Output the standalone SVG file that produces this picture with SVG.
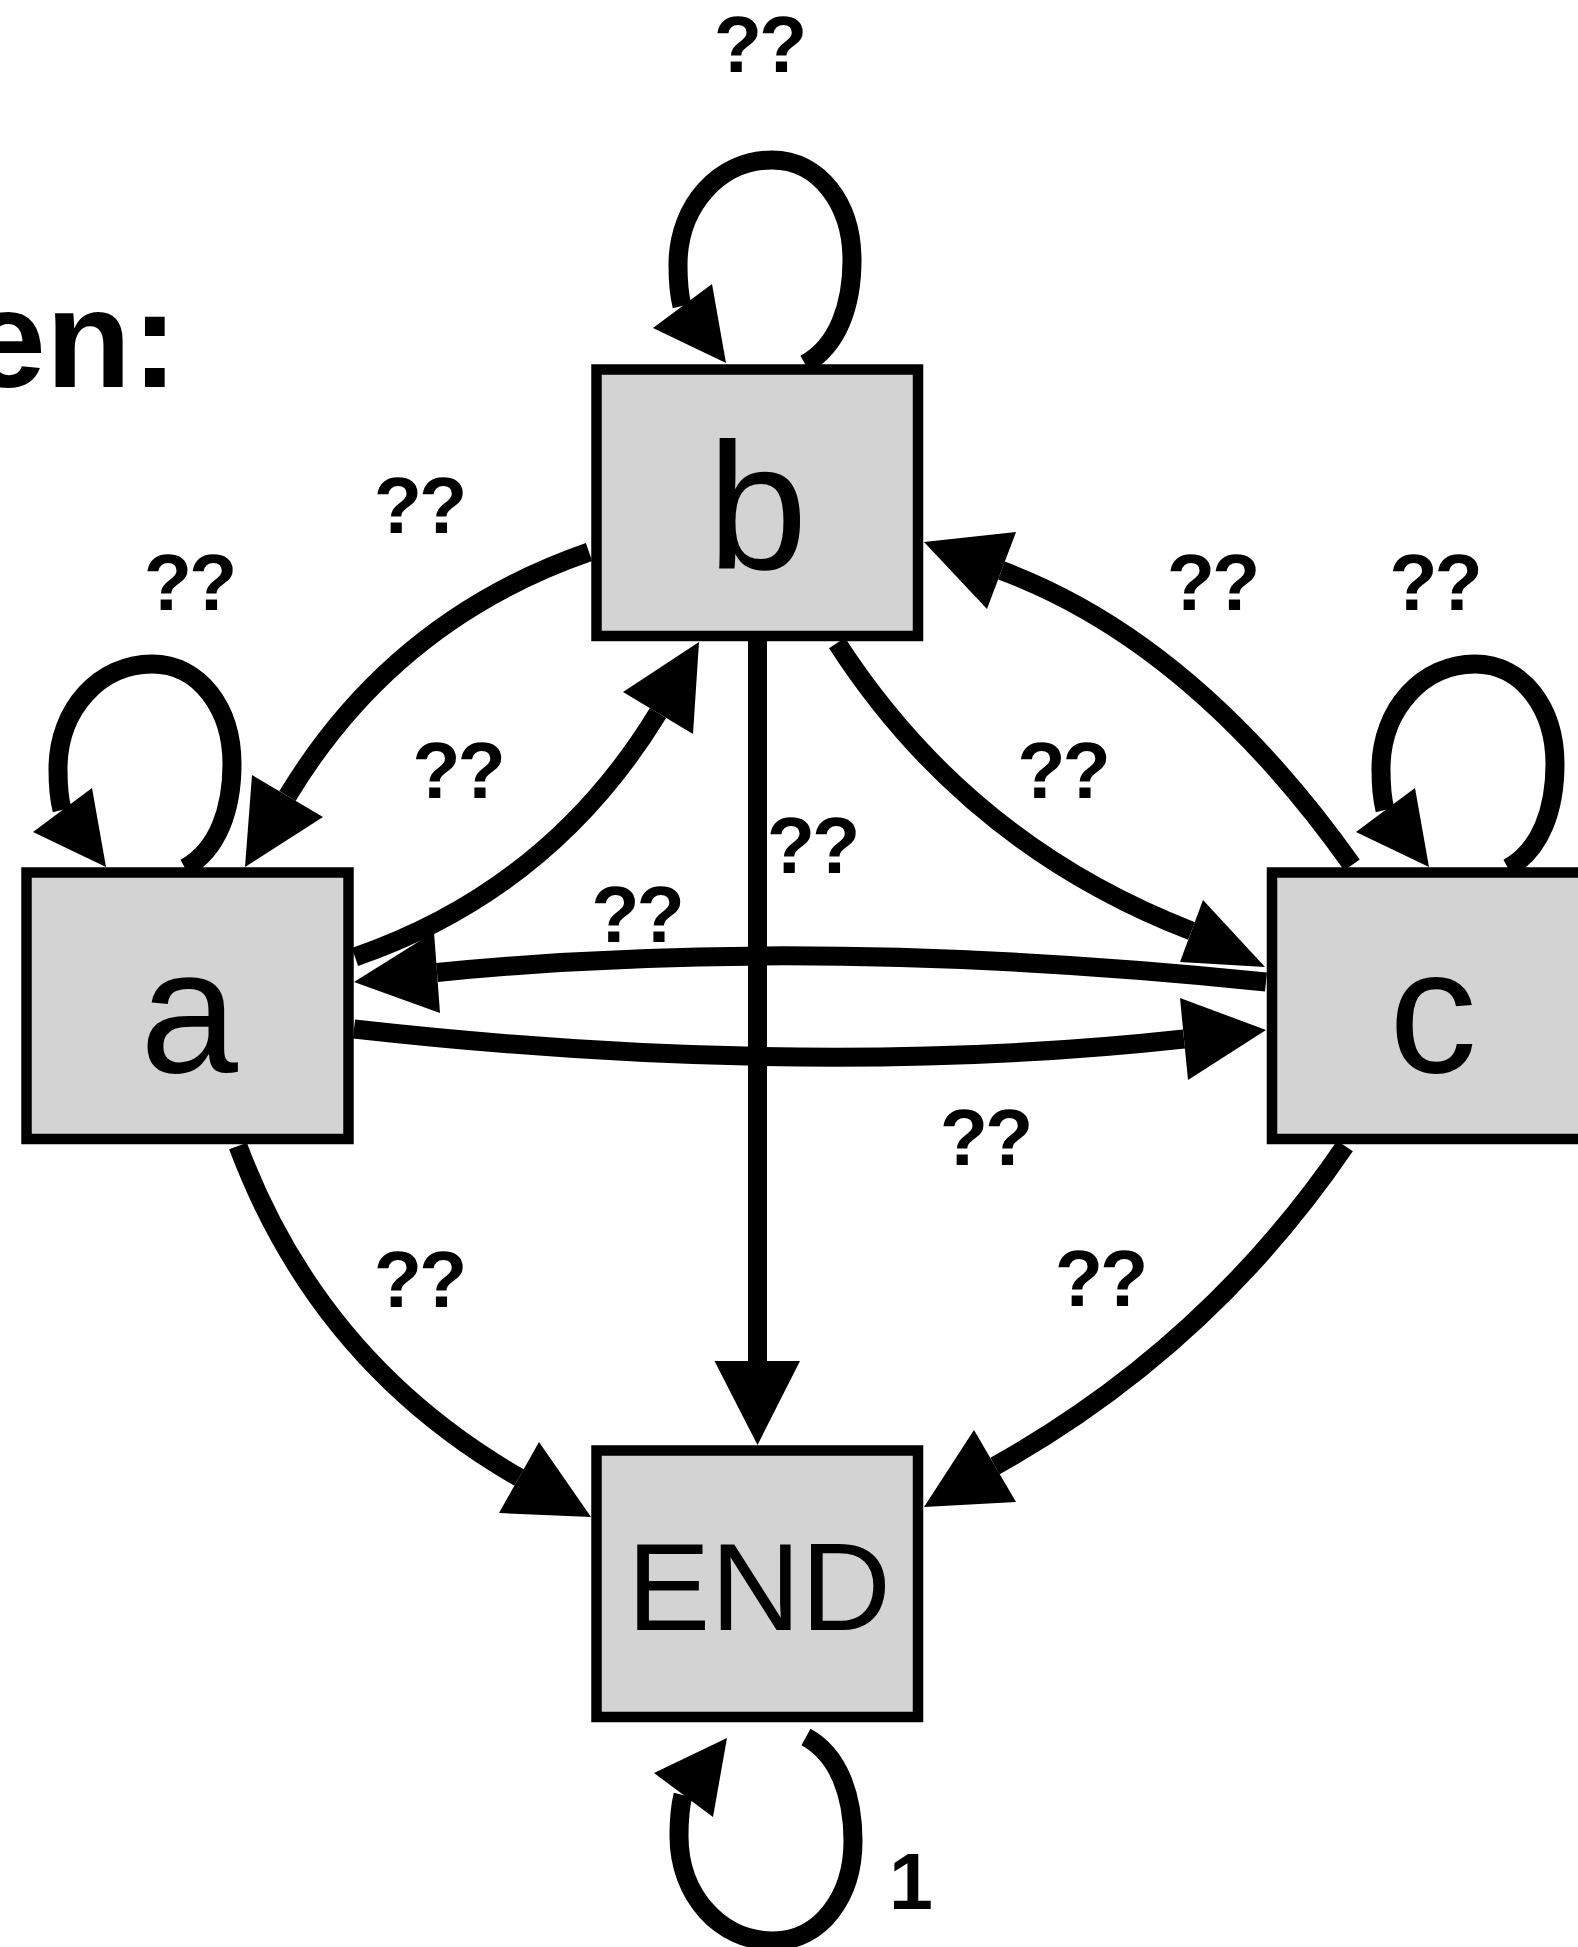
<svg xmlns="http://www.w3.org/2000/svg" xmlns:xlink="http://www.w3.org/1999/xlink" width="1578" height="1947" viewBox="0 0 1578 1947">
<style>
.node rect{fill:#d3d3d3;stroke:#000;stroke-width:10.5}
.node text{font-family:"Liberation Sans",Arial,Helvetica,sans-serif;fill:#000;text-anchor:middle}
.edge{fill:none;stroke:#000;stroke-width:19;stroke-linecap:butt}
.head{fill:#000;stroke:none}
.lbl{font-family:"Liberation Sans",Arial,Helvetica,sans-serif;font-weight:bold;font-size:79px;fill:#000;text-anchor:middle;letter-spacing:-3px}
.title{font-family:"Liberation Sans",Arial,Helvetica,sans-serif;font-weight:bold;font-size:140px;fill:#000;text-anchor:end}
</style>
<defs>
<g id="loop">
<path class="edge" d="M 805 364 C 838 346, 852 305, 852 260 C 852 205, 820 160, 772 160 C 720 160, 678 205, 678 265 C 678 280, 679 294, 682 306"/>
<polygon class="head" points="653,328 712,284 726,363"/>
</g>
</defs>
<rect width="1578" height="1947" fill="#fff"/>
<text class="title" x="178" y="387">en:</text>
<g id="node-b" class="node"><rect x="596.5" y="369.5" width="321.5" height="266.5"/><text x="757.5" y="569" font-size="180">b</text></g>
<g id="node-a" class="node"><rect x="26.5" y="872.5" width="322" height="266.5"/><text x="189" y="1072" font-size="176">a</text></g>
<g id="node-c" class="node"><rect x="1272" y="872.5" width="322" height="266.5"/><text x="1433" y="1072" font-size="176">c</text></g>
<g id="node-END" class="node"><rect x="596.5" y="1450.5" width="321.5" height="266.5"/><text x="759" y="1630" font-size="125">END</text></g>
<g id="connectors">
<use xlink:href="#loop"/>
<use xlink:href="#loop" transform="translate(-620,504)"/>
<use xlink:href="#loop" transform="translate(703,504)"/>
<use xlink:href="#loop" transform="translate(1,2101) scale(1,-1)"/>
<path class="edge" d="M 589 552 Q 394 619.6 287.5 796"/>
<polygon class="head" points="252,775 323,817 245,867"/>
<path class="edge" d="M 355 957 Q 550.3 889.6 658 713"/>
<polygon class="head" points="623,692 699,642 693,734"/>
<path class="edge" d="M 837 643 Q 967 844 1191.5 931"/>
<polygon class="head" points="1203,900 1265,967 1180,962"/>
<path class="edge" d="M 1352 865 Q 1193.5 642 1001.5 570.5"/>
<polygon class="head" points="924,542 1016,532 987,609"/>
<path class="edge" d="M 1266 982 Q 810 935 437 972.5"/>
<polygon class="head" points="354,982 434,932 440,1013"/>
<path class="edge" d="M 354 1029 Q 810 1080 1184 1039"/>
<polygon class="head" points="1180,998 1266,1030 1188,1080"/>
<path class="edge" d="M 757.5 641 L 757.5 1362"/>
<polygon class="head" points="714.5,1361 800,1361 757.5,1445"/>
<path class="edge" d="M 238 1146 Q 318.9 1362.3 519 1477.5"/>
<polygon class="head" points="539,1442 591,1517 499,1513"/>
<path class="edge" d="M 1345 1146 Q 1208 1347 995 1466"/>
<polygon class="head" points="974,1430 1016,1502 924,1507"/>
</g>
<g id="edge-labels">
<text class="lbl" x="759" y="72">??</text>
<text class="lbl" x="419" y="533">??</text>
<text class="lbl" x="189" y="610">??</text>
<text class="lbl" x="1212" y="610">??</text>
<text class="lbl" x="1434.5" y="610">??</text>
<text class="lbl" x="457.5" y="798">??</text>
<text class="lbl" x="1062.5" y="798">??</text>
<text class="lbl" x="812" y="873">??</text>
<text class="lbl" x="636.5" y="942">??</text>
<text class="lbl" x="985" y="1165">??</text>
<text class="lbl" x="419" y="1307">??</text>
<text class="lbl" x="1100" y="1306">??</text>
<text class="lbl" x="911" y="1909" style="letter-spacing:0">1</text>
</g>
</svg>
